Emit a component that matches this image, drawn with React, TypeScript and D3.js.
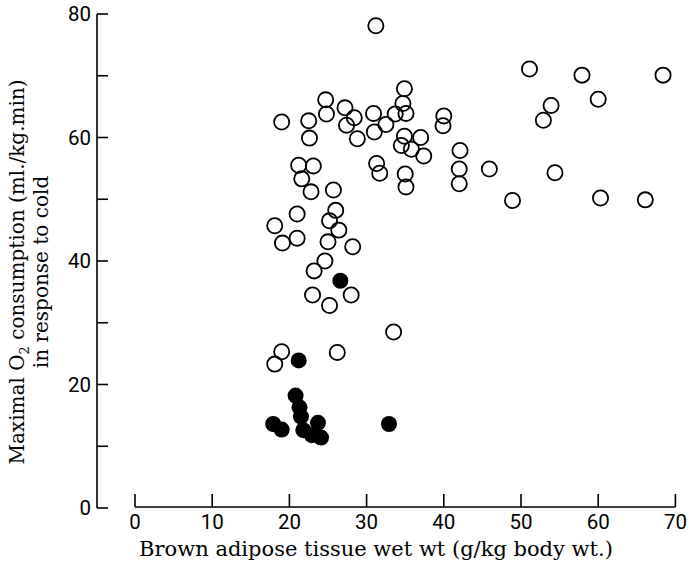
import React, { useRef, useEffect } from "react";
import { select, scaleLinear, range } from "d3";

// open circles: brown adipose tissue (g/kg) vs maximal O2 (ml/kg.min)
const openBAT = [
  31.2, 34.9, 34.7, 33.7, 35.1, 24.7, 24.8, 27.2, 28.4, 27.4, 30.9, 31.0, 32.5,
  28.8, 19.0, 22.5, 22.6, 40.0, 39.9, 34.9, 37.0, 34.5, 35.8, 37.4, 42.1, 42.0,
  42.0, 21.2, 23.1, 21.6, 22.8, 25.7, 31.3, 31.7, 35.0, 35.1, 21.0, 18.1, 19.1,
  21.0, 26.0, 25.2, 26.4, 25.0, 28.2, 24.6, 23.2, 23.0, 25.2, 28.0, 33.5, 19.0,
  18.1, 26.2, 51.1, 57.9, 68.4, 60.0, 53.9, 52.9, 45.9, 54.4, 48.9, 60.3, 66.1,
];
const openVO2 = [
  78.1, 67.9, 65.5, 63.8, 63.9, 66.1, 63.8, 64.8, 63.2, 62.0, 63.9, 60.9, 62.1,
  59.8, 62.5, 62.7, 59.9, 63.5, 61.9, 60.2, 60.0, 58.7, 58.1, 57.0, 57.9, 54.9,
  52.5, 55.5, 55.4, 53.3, 51.2, 51.5, 55.8, 54.2, 54.1, 52.0, 47.6, 45.7, 42.9,
  43.7, 48.2, 46.5, 45.0, 43.1, 42.3, 40.0, 38.4, 34.5, 32.8, 34.5, 28.5, 25.3,
  23.3, 25.2, 71.1, 70.1, 70.1, 66.2, 65.2, 62.8, 54.9, 54.3, 49.8, 50.2, 49.9,
];

// filled circles
const filledBAT = [26.6, 21.2, 20.8, 21.3, 21.5, 23.7, 17.9, 19.0, 21.8, 22.9, 24.1, 32.9];
const filledVO2 = [36.8, 23.9, 18.2, 16.3, 14.8, 13.8, 13.6, 12.7, 12.6, 11.8, 11.4, 13.6];

const xTicks = [0, 10, 20, 30, 40, 50, 60, 70];
const yTicks = [0, 10, 20, 30, 40, 50, 60, 70, 80];
const yTickLabels = [0, 20, 40, 60, 80];

const xTitle = "Brown adipose tissue wet wt (g/kg body wt.)";
const yTitle1 = "consumption (ml./kg.min)";
const yTitle2 = "in response to cold";

const W = 691;
const H = 577;

function App() {
  const svgRef = useRef(null);

  useEffect(() => {
    const svg = select(svgRef.current);
    svg.selectAll("*").remove();

    const xScale = scaleLinear().domain([0, 70]).range([135, 675.4]);
    const yScale = scaleLinear().domain([0, 80]).range([508, 14]);

    const axisX = 97;
    const baseY = 507;
    const tickFont = "Roboto, 'Liberation Sans', sans-serif";
    const titleFont = "'DejaVu Serif', 'Liberation Serif', serif";

    // y axis
    const gy = svg.append("g").attr("stroke", "#000").attr("stroke-width", 1.6);
    gy.append("line")
      .attr("x1", axisX).attr("x2", axisX)
      .attr("y1", yScale(80)).attr("y2", yScale(0));
    gy.selectAll(".ytick")
      .data(yTicks)
      .join("line")
      .attr("class", "ytick")
      .attr("x1", axisX).attr("x2", axisX + 11)
      .attr("y1", (d) => yScale(d)).attr("y2", (d) => yScale(d));

    svg.selectAll(".ylab")
      .data(yTickLabels)
      .join("text")
      .attr("class", "ylab")
      .attr("x", axisX - 6)
      .attr("y", (d) => yScale(d))
      .attr("dy", "0.36em")
      .attr("text-anchor", "end")
      .attr("font-family", tickFont)
      .attr("font-size", 20.5)
      .text((d) => d);

    // x axis
    const gx = svg.append("g").attr("stroke", "#000").attr("stroke-width", 1.6);
    gx.append("line")
      .attr("x1", xScale(0)).attr("x2", xScale(70))
      .attr("y1", baseY).attr("y2", baseY);
    gx.selectAll(".xtick")
      .data(xTicks)
      .join("line")
      .attr("class", "xtick")
      .attr("x1", (d) => xScale(d)).attr("x2", (d) => xScale(d))
      .attr("y1", baseY).attr("y2", baseY - 13);

    svg.selectAll(".xlab")
      .data(xTicks)
      .join("text")
      .attr("class", "xlab")
      .attr("x", (d) => xScale(d))
      .attr("y", 522)
      .attr("dy", "0.36em")
      .attr("text-anchor", "middle")
      .attr("font-family", tickFont)
      .attr("font-size", 20.5)
      .text((d) => d);

    // titles
    svg.append("text")
      .attr("x", 376)
      .attr("y", 556)
      .attr("text-anchor", "middle")
      .attr("font-family", titleFont)
      .attr("font-size", 21)
      .text(xTitle);

    const yt = svg.append("g").attr("transform", "translate(0,272) rotate(-90)");
    const t1 = yt.append("text")
      .attr("x", 0).attr("y", 24)
      .attr("text-anchor", "middle")
      .attr("font-family", titleFont)
      .attr("font-size", 20);
    t1.append("tspan").text("Maximal O");
    t1.append("tspan").attr("font-size", 13).attr("dy", 5).text("2");
    t1.append("tspan").attr("dy", -5).text(" " + yTitle1);
    yt.append("text")
      .attr("x", 0).attr("y", 48)
      .attr("text-anchor", "middle")
      .attr("font-family", titleFont)
      .attr("font-size", 20)
      .text(yTitle2);

    // points
    svg.append("g")
      .selectAll("circle")
      .data(range(openBAT.length))
      .join("circle")
      .attr("cx", (i) => xScale(openBAT[i]))
      .attr("cy", (i) => yScale(openVO2[i]))
      .attr("r", 7.6)
      .attr("fill", "none")
      .attr("stroke", "#000")
      .attr("stroke-width", 1.8);

    svg.append("g")
      .selectAll("circle")
      .data(range(filledBAT.length))
      .join("circle")
      .attr("cx", (i) => xScale(filledBAT[i]))
      .attr("cy", (i) => yScale(filledVO2[i]))
      .attr("r", 8)
      .attr("fill", "#000");
  }, []);

  return (
    <svg
      ref={svgRef}
      width={W}
      height={H}
      style={{ position: "absolute", left: 0, top: 0, background: "#fff" }}
    />
  );
}

export default App;
